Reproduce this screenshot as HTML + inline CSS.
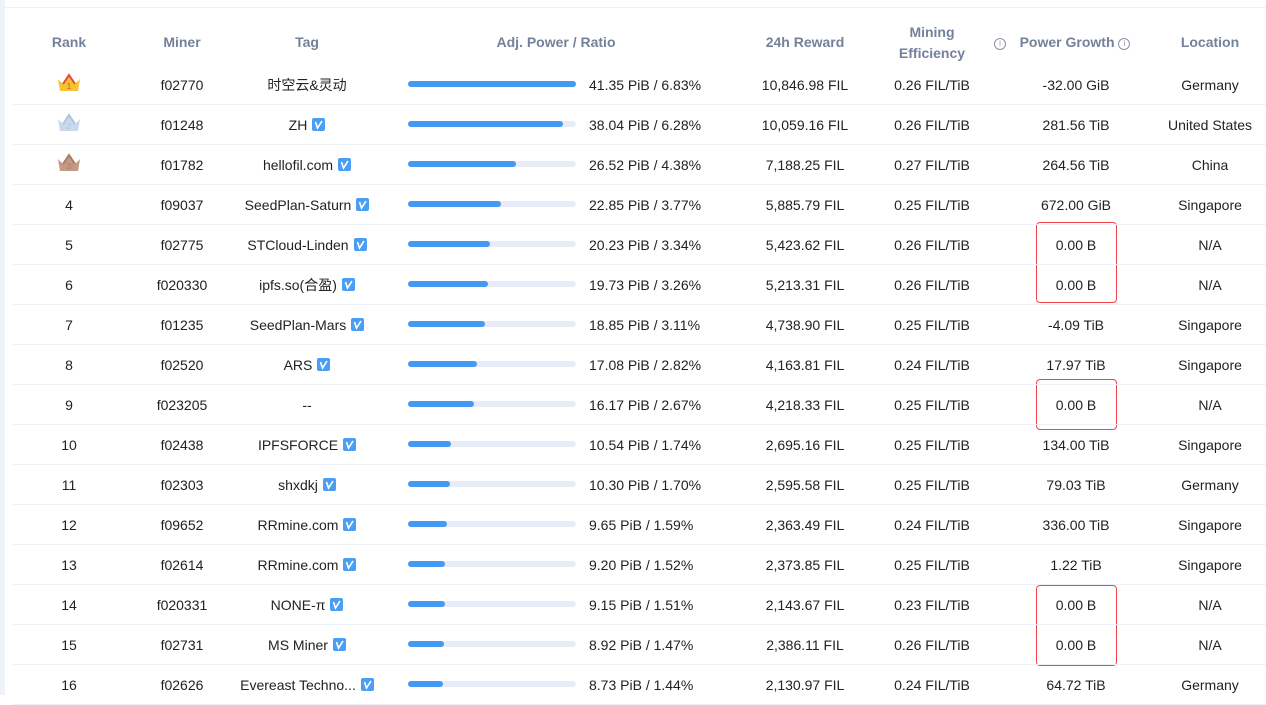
<!DOCTYPE html>
<html><head><meta charset="utf-8">
<style>
body{margin:0;width:1266px;height:695px;overflow:hidden;background:#fff;font-family:"Liberation Sans","Noto Sans CJK SC",sans-serif;position:relative}
#strip{position:absolute;left:0;top:0;width:5px;height:695px;background:#eef3fa}
#topline{position:absolute;left:5px;top:7px;width:1261px;height:1px;background:#eef0f4}
.h{position:absolute;color:#74819b;font-weight:bold;font-size:14px;text-align:center;line-height:21px}
.c{position:absolute;font-size:14px;color:#222;text-align:center;white-space:nowrap;line-height:20px}
.sep{position:absolute;left:13px;width:1253px;height:1px;background:#edf2f8}
.track{position:absolute;left:408px;width:168px;height:6px;border-radius:3px;background:#e8ecf6}
.fill{position:absolute;left:0;top:0;height:6px;border-radius:3px;background:#4499f2}
.v{display:inline-block;vertical-align:-1px;margin-left:5px}
.box{position:absolute;left:1036px;width:79px;border:1px solid #f0454a;border-radius:4px}
.info{display:inline-block;width:10px;height:10px;border:1px solid #8a93a3;border-radius:50%;font-size:8px;line-height:10px;color:#8a93a3;text-align:center;font-weight:normal;vertical-align:1px}
</style></head><body>
<div id="strip"></div>
<div id="topline"></div>
<div class="h" style="left:29px;top:32px;width:80px">Rank</div>
<div class="h" style="left:142px;top:32px;width:80px">Miner</div>
<div class="h" style="left:267px;top:32px;width:80px">Tag</div>
<div class="h" style="left:456px;top:32px;width:200px">Adj. Power / Ratio</div>
<div class="h" style="left:745px;top:32px;width:120px">24h Reward</div>
<div class="h" style="left:882px;top:22px;width:100px">Mining<br>Efficiency</div>
<div class="h" style="left:993px;top:32px;width:14px"><span class="info">i</span></div>
<div class="h" style="left:1010px;top:32px;width:130px;white-space:nowrap">Power Growth <span class="info">i</span></div>
<div class="h" style="left:1160px;top:32px;width:100px">Location</div>
<div class="box" style="top:222px;height:79px"></div>
<div class="box" style="top:379px;height:49px"></div>
<div class="box" style="top:585px;height:79px"></div>
<script>
const miners=["f02770","f01248","f01782","f09037","f02775","f020330","f01235","f02520","f023205","f02438","f02303","f09652","f02614","f020331","f02731","f02626"];
const tags=["时空云&灵动","ZH","hellofil.com","SeedPlan-Saturn","STCloud-Linden","ipfs.so(合盈)","SeedPlan-Mars","ARS","--","IPFSFORCE","shxdkj","RRmine.com","RRmine.com","NONE-π","MS Miner","Evereast Techno..."];
const verified=[0,1,1,1,1,1,1,1,0,1,1,1,1,1,1,1];
const power=[41.35,38.04,26.52,22.85,20.23,19.73,18.85,17.08,16.17,10.54,10.30,9.65,9.20,9.15,8.92,8.73];
const ratio=[6.83,6.28,4.38,3.77,3.34,3.26,3.11,2.82,2.67,1.74,1.70,1.59,1.52,1.51,1.47,1.44];
const reward=["10,846.98","10,059.16","7,188.25","5,885.79","5,423.62","5,213.31","4,738.90","4,163.81","4,218.33","2,695.16","2,595.58","2,363.49","2,373.85","2,143.67","2,386.11","2,130.97"];
const eff=[0.26,0.26,0.27,0.25,0.26,0.26,0.25,0.24,0.25,0.25,0.25,0.24,0.25,0.23,0.26,0.24];
const growth=["-32.00 GiB","281.56 TiB","264.56 TiB","672.00 GiB","0.00 B","0.00 B","-4.09 TiB","17.97 TiB","0.00 B","134.00 TiB","79.03 TiB","336.00 TiB","1.22 TiB","0.00 B","0.00 B","64.72 TiB"];
const locs=["Germany","United States","China","Singapore","N/A","N/A","Singapore","Singapore","N/A","Singapore","Germany","Singapore","Singapore","N/A","N/A","Germany"];
const crownCols=[["#f5c531","#e8463a"],["#c9d9ea","#aec4da"],["#c49a86","#a87b68"]];
const maxP=Math.max(...power);
const vIcon='<svg class="v" width="13" height="13" viewBox="0 0 13 13"><rect width="13" height="13" rx="2" fill="#4a9ff5"/><path d="M3.5 4 L5.5 10 L10 3" stroke="#fff" stroke-width="1.6" fill="none"/></svg>';
function cell(x,w,y,html,name,inter){const d=document.createElement('div');d.className='c';d.style.left=x+'px';d.style.width=w+'px';d.style.top=(y-9)+'px';d.innerHTML=html;


document.body.appendChild(d);return d;}
for(let i=0;i<miners.length;i++){
 const y=84+i*40;
 const s=document.createElement('div');s.className='sep';s.style.top=(y+20)+'px';
 
 
 document.body.appendChild(s);
 if(i<3){const c=crownCols[i];
  cell(29,80,y,'<svg width="26" height="20" viewBox="0 0 26 20"><path d="M2 6 L7 11 L13 2 L19 11 L24 6 L22 18 L4 18 Z" fill="'+c[0]+'"/><path d="M7 11 L13 2 L19 11" stroke="'+c[1]+'" stroke-width="2" fill="none"/><text x="13" y="16" font-size="8" text-anchor="middle" fill="'+c[1]+'">'+(i+1)+'</text></svg>','rank-crown-'+(i+1),false).style.top=(y-11)+'px';
 } else cell(29,80,y,String(i+1),'rank-'+(i+1),false);
 cell(132,100,y,miners[i],'miner-id',true);
 cell(217,180,y,tags[i]+(verified[i]?vIcon:''),'miner-tag',false);
 const t=document.createElement('div');t.className='track';t.style.top=(y-3)+'px';
 
 
 const f=document.createElement('div');f.className='fill';f.style.width=(168*power[i]/maxP)+'px';
 
 
 t.appendChild(f);document.body.appendChild(t);
 const p=cell(589,150,y,power[i].toFixed(2)+' PiB / '+ratio[i].toFixed(2)+'%','power-ratio',false);p.style.textAlign='left';
 cell(745,120,y,reward[i]+' FIL','reward-24h',false);
 cell(882,100,y,eff[i].toFixed(2)+' FIL/TiB','mining-efficiency',false);
 cell(1016,120,y,growth[i],'power-growth',false);
 cell(1155,110,y,locs[i],'location',false);
}
</script>
</body></html>
